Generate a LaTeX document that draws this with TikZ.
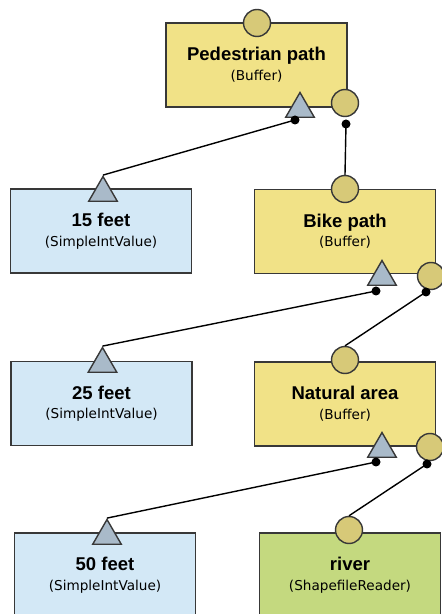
\documentclass[tikz,border=0pt]{standalone}
\usepackage{fontspec}
\setmainfont{Liberation Sans}
\newfontfamily\subfont{DejaVu Sans}
\usetikzlibrary{shapes.geometric}
\definecolor{bufferfill}{HTML}{F1E287}
\definecolor{valuefill}{HTML}{D3E8F6}
\definecolor{readerfill}{HTML}{C4D97F}
\definecolor{portfill}{HTML}{D7C978}
\definecolor{trifill}{HTML}{A9BAC9}
\definecolor{edgegray}{HTML}{383838}
\newcommand{\boxtext}[2]{{\bfseries #1}\\{\subfont\fontsize{13.6}{15}\selectfont #2}}
\begin{document}
\begin{tikzpicture}[x=1pt,y=1pt]
\useasboundingbox (0,0) rectangle (442,614);
\begin{scope}[every node/.style = {rectangle, draw=edgegray, line width=1.4pt, minimum width=181pt, minimum height=84pt, align=center, inner sep=0pt, text depth=2pt, font=\fontsize{18.5}{19.5}\selectfont}]
\node[fill=bufferfill] (ped) at (256.5, 549) {\boxtext{Pedestrian path}{(Buffer)}};
\node[fill=valuefill] (fifteen) at (101, 383) {\boxtext{15 feet}{(SimpleIntValue)}};
\node[fill=bufferfill] (bike) at (345, 382.5) {\boxtext{Bike path}{(Buffer)}};
\node[fill=valuefill] (twentyfive) at (101.5, 210.5) {\boxtext{25 feet}{(SimpleIntValue)}};
\node[fill=bufferfill] (natural) at (345, 210) {\boxtext{Natural area}{(Buffer)}};
\node[fill=valuefill] (fifty) at (105, 39) {\boxtext{50 feet}{(SimpleIntValue)}};
\node[fill=readerfill] (river) at (350, 39) {\boxtext{river}{(ShapefileReader)}};
\end{scope}
% circle ports
\begin{scope}[every node/.style = {circle, draw=edgegray, line width=1.4pt, fill=portfill, minimum size=27pt, inner sep=0pt}]
\node (pedIn) at (257, 591) {};
\node (pedOut) at (345, 511) {};
\node (bikeIn) at (345, 425) {};
\node (bikeOut) at (431, 338) {};
\node (naturalIn) at (345, 254) {};
\node (naturalOut) at (430, 167) {};
\node (riverIn) at (349, 84) {};
\end{scope}
% value ports
\begin{scope}[every node/.style = {regular polygon, regular polygon sides=3, draw=edgegray, line width=1.4pt, fill=trifill, minimum size=33pt, inner sep=0pt}]
\node (pedVal) at (300, 505) {};
\node (fifteenVal) at (103, 421) {};
\node (bikeVal) at (382, 337) {};
\node (twentyfiveVal) at (102.5, 250) {};
\node (naturalVal) at (382, 165) {};
\node (fiftyVal) at (107, 78) {};
\end{scope}
\begin{scope}[every node/.style = {circle, fill=black, minimum size=9pt, inner sep=0pt}]
\node (pedValDot) at (295, 494) {};
\node (pedOutDot) at (346, 490) {};
\node (bikeValDot) at (376, 323) {};
\node (bikeOutDot) at (426, 322) {};
\node (naturalValDot) at (376, 152) {};
\node (naturalOutDot) at (427, 150) {};
\end{scope}
\begin{scope}[every path/.style = {draw, line width=1.4pt}]
\path (pedValDot.center) -- (fifteenVal.corner 1);
\path (pedOutDot.center) -- (bikeIn.north);
\path (bikeValDot.center) -- (twentyfiveVal.corner 1);
\path (bikeOutDot.center) -- (naturalIn.north);
\path (naturalValDot.center) -- (fiftyVal.corner 1);
\path (naturalOutDot.center) -- (riverIn.north);
\end{scope}
\end{tikzpicture}
\end{document}
